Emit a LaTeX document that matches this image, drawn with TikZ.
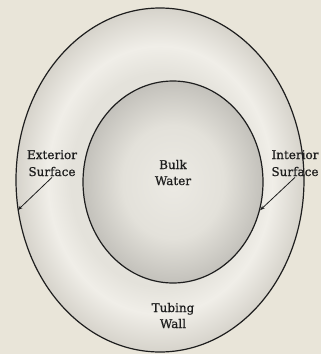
\documentclass[tikz,border=0pt]{standalone}
\usepackage{fontspec}
\setmainfont[FakeBold=0.8]{DejaVu Serif}
\usetikzlibrary{shapes.geometric,arrows.meta}
\definecolor{bgc}{HTML}{E9E5D9}
\definecolor{ringa}{HTML}{E4E2DB}
\definecolor{ringb}{HTML}{F0EEE8}
\definecolor{ringc}{HTML}{D6D3CB}
\definecolor{corea}{HTML}{ECEAE4}
\definecolor{coreb}{HTML}{E3E1DA}
\definecolor{corec}{HTML}{C3C1BB}
\definecolor{inkc}{HTML}{1E1E1E}
\pgfdeclareradialshading{ringshade}{\pgfpointorigin}{color(0bp)=(ringa); color(15.5bp)=(ringa); color(19.5bp)=(ringb); color(25bp)=(ringc); color(50bp)=(ringc)}
\pgfdeclareradialshading{coreshade}{\pgfpointorigin}{color(0bp)=(corea); color(14bp)=(coreb); color(25bp)=(corec); color(50bp)=(corec)}
\tikzset{
  ring/.style={ellipse, draw=inkc, line width=1.2pt, inner sep=0pt},
  lbl/.style={anchor=base, inner sep=0pt, font=\fontsize{12}{15}\selectfont, text=inkc},
  pointer/.style={draw=inkc, line width=0.8pt, -{Stealth[length=5pt,width=3.5pt]}}
}
\begin{document}
\begin{tikzpicture}[x=1pt,y=-1pt]
\fill[bgc] (0,0) rectangle (321,354);
\useasboundingbox (0,0) rectangle (321,354);
\node[ring, minimum width=288pt, minimum height=344pt, shading=ringshade] (outer) at (160,180) {};
\node[ring, minimum width=180pt, minimum height=202pt, shading=coreshade] (inner) at (173,182) {};
\node[lbl] (ext1) at (52,159) {Exterior};
\node[lbl] (ext2) at (52,176) {Surface};
\node[lbl] (int1) at (295,159) {Interior};
\node[lbl] (int2) at (295,176) {Surface};
\node[lbl] (bulk1) at (173,169) {Bulk};
\node[lbl] (bulk2) at (173,185) {Water};
\node[lbl] (tub1) at (173,312) {Tubing};
\node[lbl] (tub2) at (173,328) {Wall};
\draw[pointer] ([yshift=-1pt]ext2.south) -- (outer.192);
\draw[pointer] ([yshift=-1pt]int2.south) -- (inner.342);
\end{tikzpicture}
\end{document}
